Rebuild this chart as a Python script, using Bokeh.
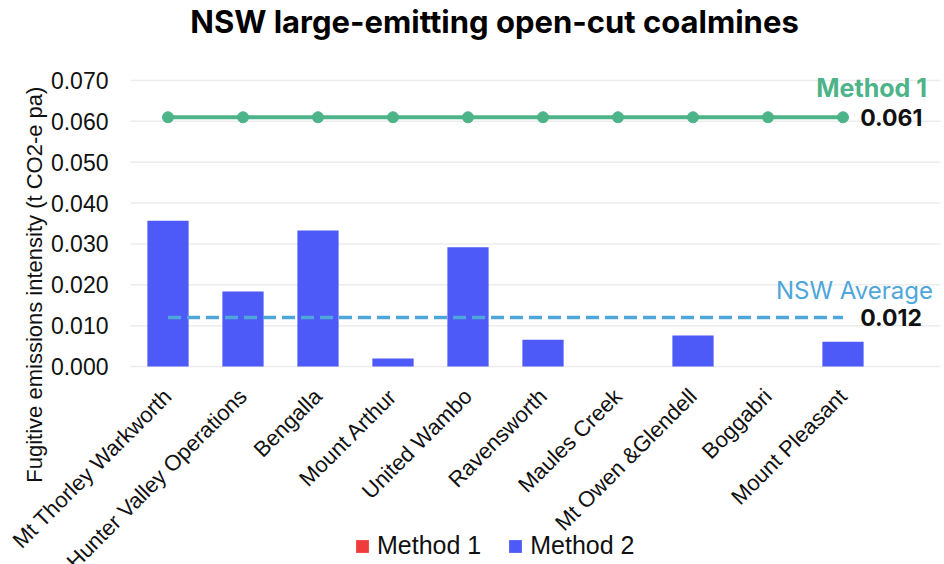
from bokeh.plotting import figure
from bokeh.models import (Range1d, FixedTicker, NumeralTickFormatter, Label,
                          ColumnDataSource, Legend, LegendItem)
from bokeh.embed import file_html
from bokeh.resources import INLINE
import math

# ---- data ----
mines = ["Mt Thorley Warkworth", "Hunter Valley Operations", "Bengalla",
         "Mount Arthur", "United Wambo", "Ravensworth", "Maules Creek",
         "Mt Owen &Glendell", "Boggabri", "Mount Pleasant"]
method2 = [0.0357, 0.0184, 0.0333, 0.0020, 0.0292, 0.0066, 0.0, 0.0076, 0.0, 0.0061]
method1 = [0.061] * 10
nsw_avg = 0.012
method1_value = 0.061
y_ticks = [0.0, 0.01, 0.02, 0.03, 0.04, 0.05, 0.06, 0.07]
title_text = "NSW large-emitting open-cut coalmines"
y_title = "Fugitive emissions intensity (t CO2-e pa)"
legend_labels = ["Method 1", "Method 2"]

GREEN = "#4db389"
BLUE_BAR = "#4d5af7"
AVG_BLUE = "#4fa6da"
RED = "#ef3b3b"

xs = list(range(len(mines)))

# The frame spans the whole canvas so that rotated labels, title and legend
# are not clipped. Plot area: x from 130px to 940px, 0.070 at 80px, 0 at 366px.
PX_PER_Y = 4090.0
PX_PER_X = 75.0
x_left = -0.5 - 130 / PX_PER_X
x_right = 10.3 + 4 / PX_PER_X
y_top = 0.07 + 80 / PX_PER_Y
y_bot = -(564 - 366) / PX_PER_Y

p = figure(width=944, height=564, output_backend="svg", toolbar_location=None,
           x_range=Range1d(x_left, x_right), y_range=Range1d(y_bot, y_top),
           min_border_left=0, min_border_right=0, min_border_top=0,
           min_border_bottom=0)
p.outline_line_color = None
p.background_fill_color = "white"
p.border_fill_color = "white"

# x axis (fixed at y = 0)
p.xaxis.fixed_location = 0
p.xaxis.ticker = FixedTicker(ticks=xs)
p.xaxis.major_label_overrides = {i: m for i, m in enumerate(mines)}
p.xaxis.major_label_orientation = math.pi / 4
p.xaxis.major_label_text_font = "Liberation Sans"
p.xaxis.major_label_text_font_size = "22px"
p.xaxis.major_label_text_color = "#111111"
p.xaxis.axis_line_color = None
p.xaxis.major_tick_line_color = None
p.xaxis.minor_tick_line_color = None
p.xaxis.major_label_standoff = 20

# y axis (fixed at the left edge of the plotting area)
p.yaxis.fixed_location = -0.5
p.yaxis.ticker = FixedTicker(ticks=y_ticks)
p.yaxis.formatter = NumeralTickFormatter(format="0.000")
p.yaxis.major_label_text_font = "Liberation Sans"
p.yaxis.major_label_text_font_size = "23px"
p.yaxis.major_label_text_color = "#111111"
p.yaxis.axis_line_color = None
p.yaxis.major_tick_line_color = None
p.yaxis.minor_tick_line_color = None
p.yaxis.major_label_standoff = 16

# grid lines limited to the plotting area
p.xgrid.grid_line_color = None
p.ygrid.grid_line_color = None
p.segment(x0=-0.5, x1=10.3, y0=y_ticks, y1=y_ticks, line_color="#ececec",
          line_width=1.5)

# bars (Method 2)
src = ColumnDataSource(dict(x=xs, top=method2))
bars = p.vbar(x="x", top="top", width=0.55, source=src, fill_color=BLUE_BAR,
              line_color=None)

# zero-height swatches used only for the legend keys
key1 = p.vbar(x=[0], top=[0], width=0.55, fill_color=RED, line_color=None)
key2 = p.vbar(x=[0], top=[0], width=0.55, fill_color=BLUE_BAR, line_color=None)

# Method 1 line
p.line(xs, method1, line_color=GREEN, line_width=4)
p.scatter(xs, method1, size=11, fill_color=GREEN, line_color=GREEN)

# NSW average dashed
p.line([xs[0], xs[-1]], [nsw_avg, nsw_avg], line_color=AVG_BLUE, line_width=3.5,
       line_dash="13 6")

# annotations
p.add_layout(Label(x=10.12, y=0.0681, text="Method 1", text_font="Inter",
                   text_font_style="bold", text_font_size="25px",
                   text_color=GREEN, text_align="right", text_baseline="middle"))
p.add_layout(Label(x=9.23, y=method1_value, text="%.3f" % method1_value,
                   text_font="Inter", text_font_style="bold",
                   text_font_size="23px", text_color="#111111",
                   text_align="left", text_baseline="middle"))
p.add_layout(Label(x=10.2, y=0.0186, text="NSW Average", text_font="Inter",
                   text_font_size="24px", text_color=AVG_BLUE,
                   text_align="right", text_baseline="middle"))
p.add_layout(Label(x=9.23, y=nsw_avg, text="%.3f" % nsw_avg,
                   text_font="Inter", text_font_style="bold",
                   text_font_size="23px", text_color="#111111",
                   text_align="left", text_baseline="middle"))

# chart title
p.add_layout(Label(x=x_left + 494 / PX_PER_X, y=0.07 + (80 - 21) / PX_PER_Y,
                   text=title_text, text_font="Inter", text_font_style="bold",
                   text_font_size="31px", text_color="#000000",
                   text_align="center", text_baseline="middle"))

# y axis title
p.add_layout(Label(x=x_left + 34 / PX_PER_X, y=(366 - 284) / PX_PER_Y,
                   text=y_title, angle=math.pi / 2,
                   text_font="Liberation Sans", text_font_size="22px",
                   text_color="#111111", text_align="center",
                   text_baseline="middle"))

legend = Legend(items=[LegendItem(label=legend_labels[0], renderers=[key1]),
                       LegendItem(label=legend_labels[1], renderers=[key2])],
                orientation="horizontal", location=(354, 4),
                label_text_font="Liberation Sans", label_text_font_size="25px",
                label_text_color="#111111", glyph_width=16, glyph_height=16,
                spacing=26, label_standoff=7, padding=4,
                border_line_color=None, background_fill_alpha=0)
p.add_layout(legend, "center")

open("out.html", "w").write(file_html(p, INLINE))
